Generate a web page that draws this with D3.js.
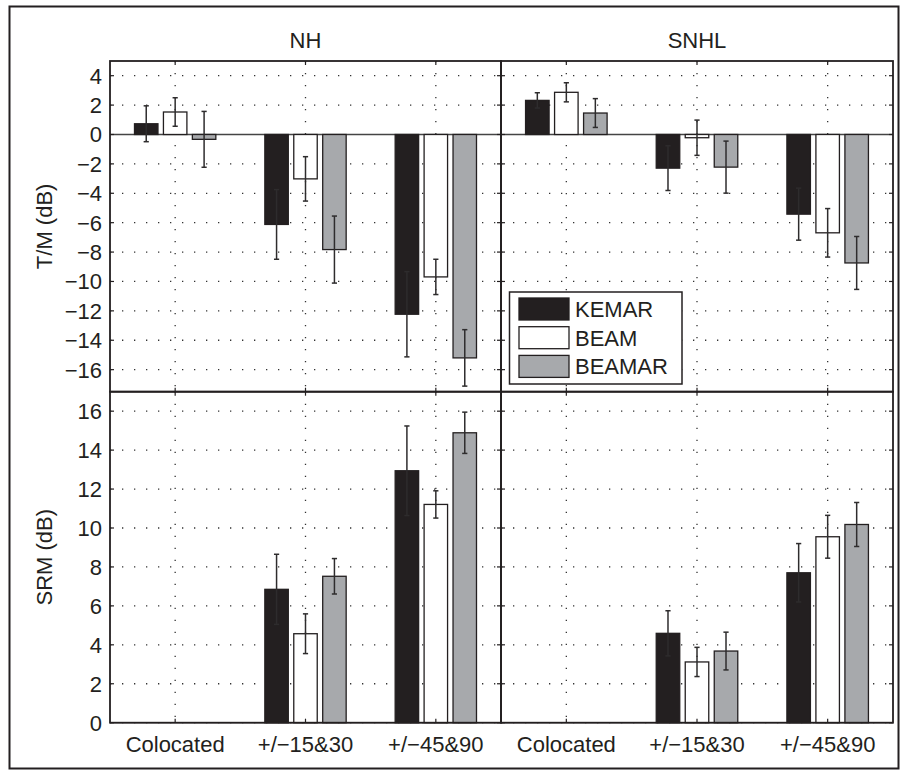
<!DOCTYPE html>
<html>
<head>
<meta charset="utf-8">
<script src="https://cdn.jsdelivr.net/npm/d3@7"></script>
<style>
  html, body { margin: 0; padding: 0; background: #fff; }
  svg text { font-family: "Liberation Sans", Arial, Helvetica, sans-serif; fill: #231f20; }
</style>
</head>
<body>
<svg id="chart" width="902" height="774"></svg>
<script>
// ---------- data ----------
const categories = ["Colocated", "+/\u221215&30", "+/\u221245&90"];
const series = ["KEMAR", "BEAM", "BEAMAR"];
const seriesColors = ["#231f20", "#ffffff", "#a7a9ac"];
const groups = ["NH", "SNHL"];

// [series][category]
const tmNH      = [[0.73, -6.12, -12.23], [1.53, -3.02, -9.69], [-0.33, -7.83, -15.2]];
const tmNHErr   = [[1.22, 2.37, 2.9],     [0.97, 1.51, 1.2],    [1.9, 2.28, 1.92]];
const tmSNHL    = [[2.32, -2.29, -5.42],  [2.87, -0.22, -6.69], [1.46, -2.22, -8.74]];
const tmSNHLErr = [[0.52, 1.52, 1.77],    [0.65, 1.2, 1.65],    [0.98, 1.77, 1.8]];
const srmNH      = [[0, 6.85, 12.94], [0, 4.57, 11.21], [0, 7.52, 14.89]];
const srmNHErr   = [[0, 1.8, 2.3],    [0, 1.02, 0.7],   [0, 0.91, 1.06]];
const srmSNHL    = [[0, 4.59, 7.7],   [0, 3.12, 9.55],  [0, 3.68, 10.18]];
const srmSNHLErr = [[0, 1.16, 1.5],   [0, 0.75, 1.1],   [0, 0.97, 1.13]];

const tmTicks  = [-16, -14, -12, -10, -8, -6, -4, -2, 0, 2, 4];
const srmTicks = [0, 2, 4, 6, 8, 10, 12, 14, 16];
const tmDomain = [-17.5, 5];
const srmDomain = [0, 17];

// ---------- layout ----------
const svg = d3.select("#chart");
const FS = 22;
const colX = [[110, 501], [501, 893]];
const rowY = [[61, 391.7], [391.7, 722.7]];

svg.append("rect").attr("x", 0).attr("y", 0).attr("width", 902).attr("height", 774).attr("fill", "#fff");
svg.append("rect").attr("x", 9.5).attr("y", 6.5).attr("width", 889).attr("height", 762)
  .attr("fill", "none").attr("stroke", "#231f20").attr("stroke-width", 2);

const panels = [
  {row: 0, col: 0, vals: tmNH,   errs: tmNHErr,   ticks: tmTicks,  dom: tmDomain},
  {row: 0, col: 1, vals: tmSNHL, errs: tmSNHLErr, ticks: tmTicks,  dom: tmDomain},
  {row: 1, col: 0, vals: srmNH,  errs: srmNHErr,  ticks: srmTicks, dom: srmDomain},
  {row: 1, col: 1, vals: srmSNHL,errs: srmSNHLErr,ticks: srmTicks, dom: srmDomain}
];

const barOffset = 0.222, barWidth = 0.18;

panels.forEach(p => {
  const [x0, x1] = colX[p.col];
  const [y0, y1] = rowY[p.row];
  const x = d3.scaleLinear().domain([0.5, 3.5]).range([x0, x1]);
  const y = d3.scaleLinear().domain(p.dom).range([y1, y0]);
  const g = svg.append("g");

  // grid
  const grid = g.append("g").attr("stroke", "#333").attr("stroke-width", 1.3)
    .attr("stroke-dasharray", "1.3,10.7");
  p.ticks.forEach(t => {
    if (p.dom === tmDomain && t === 0) return;
    grid.append("line").attr("x1", x0).attr("x2", x1).attr("y1", y(t)).attr("y2", y(t));
  });
  categories.forEach((c, i) => {
    grid.append("line").attr("x1", x(i + 1)).attr("x2", x(i + 1)).attr("y1", y0).attr("y2", y1);
  });

  // baseline
  g.append("line").attr("x1", x0).attr("x2", x1).attr("y1", y(0)).attr("y2", y(0))
    .attr("stroke", "#444").attr("stroke-width", 1.3);

  // bars
  series.forEach((s, si) => {
    categories.forEach((c, ci) => {
      const v = p.vals[si][ci];
      const cx = ci + 1 + (si - 1) * barOffset;
      const bx = x(cx - barWidth / 2), bw = x(cx + barWidth / 2) - x(cx - barWidth / 2);
      if (v !== 0) {
        g.append("rect").attr("x", bx).attr("width", bw)
          .attr("y", Math.min(y(v), y(0))).attr("height", Math.abs(y(v) - y(0)))
          .attr("fill", seriesColors[si]).attr("stroke", "#231f20").attr("stroke-width", 1.3);
      }
    });
  });
  // error bars
  series.forEach((s, si) => {
    categories.forEach((c, ci) => {
      const v = p.vals[si][ci], e = p.errs[si][ci];
      if (e === 0) return;
      const px = x(ci + 1 + (si - 1) * barOffset);
      const eg = g.append("g").attr("stroke", "#2e2c2d").attr("stroke-width", 1.5);
      eg.append("line").attr("x1", px).attr("x2", px).attr("y1", y(v - e)).attr("y2", y(v + e));
      eg.append("line").attr("x1", px - 2.6).attr("x2", px + 2.6).attr("y1", y(v - e)).attr("y2", y(v - e));
      eg.append("line").attr("x1", px - 2.6).attr("x2", px + 2.6).attr("y1", y(v + e)).attr("y2", y(v + e));
    });
  });

  // ticks (inward on all sides)
  const tk = g.append("g").attr("stroke", "#231f20").attr("stroke-width", 1.2);
  p.ticks.forEach(t => {
    tk.append("line").attr("x1", x0).attr("x2", x0 + 4).attr("y1", y(t)).attr("y2", y(t));
    tk.append("line").attr("x1", x1 - 4).attr("x2", x1).attr("y1", y(t)).attr("y2", y(t));
  });
  categories.forEach((c, i) => {
    tk.append("line").attr("x1", x(i + 1)).attr("x2", x(i + 1)).attr("y1", y0).attr("y2", y0 + 4);
    tk.append("line").attr("x1", x(i + 1)).attr("x2", x(i + 1)).attr("y1", y1 - 4).attr("y2", y1);
  });

  // frame
  g.append("rect").attr("x", x0).attr("y", y0).attr("width", x1 - x0).attr("height", y1 - y0)
    .attr("fill", "none").attr("stroke", "#231f20").attr("stroke-width", 1.8);

  // y tick labels
  if (p.col === 0) {
    p.ticks.forEach(t => {
      g.append("text").attr("x", x0 - 8).attr("y", y(t)).attr("dy", "0.36em")
        .attr("text-anchor", "end").attr("font-size", FS)
        .text(t < 0 ? "\u2212" + Math.abs(t) : String(t));
    });
  }
  // x tick labels
  if (p.row === 1) {
    categories.forEach((c, i) => {
      g.append("text").attr("x", x(i + 1)).attr("y", 752).attr("text-anchor", "middle")
        .attr("font-size", FS).text(c);
    });
  }
  // titles
  if (p.row === 0) {
    g.append("text").attr("x", (x0 + x1) / 2).attr("y", 48).attr("text-anchor", "middle")
      .attr("font-size", FS).text(groups[p.col]);
  }
});

// y labels
const yLabels = ["T/M (dB)", "SRM (dB)"];
yLabels.forEach((l, i) => {
  const cy = (rowY[i][0] + rowY[i][1]) / 2;
  svg.append("text").attr("transform", `translate(52,${cy}) rotate(-90)`)
    .attr("text-anchor", "middle").attr("font-size", FS).text(l);
});

// legend
const lg = svg.append("g");
lg.append("rect").attr("x", 509.5).attr("y", 292).attr("width", 172.5).attr("height", 92)
  .attr("fill", "#fff").attr("stroke", "#231f20").attr("stroke-width", 1.5);
series.forEach((s, i) => {
  const sy = 298 + i * 28.7;
  lg.append("rect").attr("x", 519).attr("y", sy).attr("width", 50).attr("height", 22)
    .attr("fill", seriesColors[i]).attr("stroke", "#231f20").attr("stroke-width", 1.3);
  lg.append("text").attr("x", 575).attr("y", sy + 11).attr("dy", "0.36em")
    .attr("font-size", FS).text(s);
});
</script>
</body>
</html>
